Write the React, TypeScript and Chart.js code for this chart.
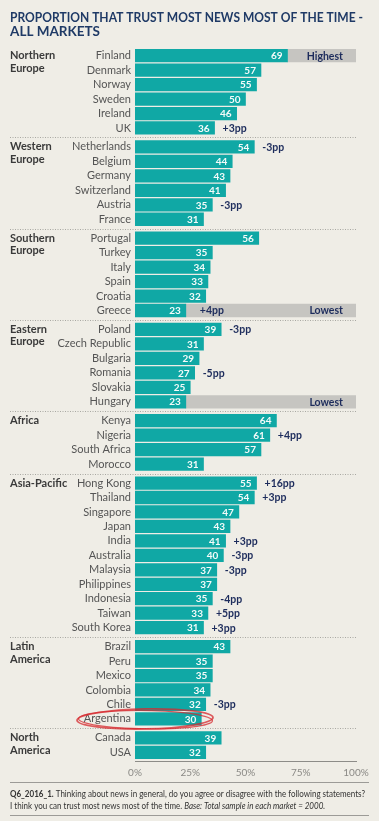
import React, { useEffect, useRef } from "react";
import { Chart, registerables } from "chart.js";

Chart.register(...registerables);

const titleLines = ["PROPORTION THAT TRUST MOST NEWS MOST OF THE TIME -", "ALL MARKETS"];

const groupNames = [
  ["Northern", "Europe"],
  ["Western", "Europe"],
  ["Southern", "Europe"],
  ["Eastern", "Europe"],
  ["Africa"],
  ["Asia-Pacific"],
  ["Latin", "America"],
  ["North", "America"],
];
const groupSizes = [6, 6, 6, 6, 4, 11, 6, 2];

const countries = [
  "Finland", "Denmark", "Norway", "Sweden", "Ireland", "UK",
  "Netherlands", "Belgium", "Germany", "Switzerland", "Austria", "France",
  "Portugal", "Turkey", "Italy", "Spain", "Croatia", "Greece",
  "Poland", "Czech Republic", "Bulgaria", "Romania", "Slovakia", "Hungary",
  "Kenya", "Nigeria", "South Africa", "Morocco",
  "Hong Kong", "Thailand", "Singapore", "Japan", "India", "Australia", "Malaysia", "Philippines", "Indonesia", "Taiwan", "South Korea",
  "Brazil", "Peru", "Mexico", "Colombia", "Chile", "Argentina",
  "Canada", "USA",
];
const values = [
  69, 57, 55, 50, 46, 36,
  54, 44, 43, 41, 35, 31,
  56, 35, 34, 33, 32, 23,
  39, 31, 29, 27, 25, 23,
  64, 61, 57, 31,
  55, 54, 47, 43, 41, 40, 37, 37, 35, 33, 31,
  43, 35, 35, 34, 32, 30,
  39, 32,
];
const changes = [
  "", "", "", "", "", "+3pp",
  "-3pp", "", "", "", "-3pp", "",
  "", "", "", "", "", "+4pp",
  "-3pp", "", "", "-5pp", "", "",
  "", "+4pp", "", "",
  "+16pp", "+3pp", "", "", "+3pp", "-3pp", "-3pp", "", "-4pp", "+5pp", "+3pp",
  "", "", "", "", "-3pp", "",
  "", "",
];
const highlights = [
  "Highest", "", "", "", "", "",
  "", "", "", "", "", "",
  "", "", "", "", "", "Lowest",
  "", "", "", "", "", "Lowest",
  "", "", "", "",
  "", "", "", "", "", "", "", "", "", "", "",
  "", "", "", "", "", "",
  "", "",
];
const circled = "Argentina";
const xTicks = [0, 25, 50, 75, 100];
const footnoteBold = "Q6_2016_1.";
const footnote1 = " Thinking about news in general, do you agree or disagree with the following statements?";
const footnote2 = "I think you can trust most news most of the time. ";
const footnoteItalic = "Base: Total sample in each market = 2000.";

const GAP = 0.31;
const TEAL = "#10a8a5";
const GREY = "#c6c5c1";
const NAVY = "#1d2c5c";
const FONT = "Lato";

// row positions along the linear index axis (row index + group gaps)
const groupOf: number[] = [];
groupSizes.forEach((n, g) => {
  for (let k = 0; k < n; k++) groupOf.push(g);
});
const positions = countries.map((_, i) => i + groupOf[i] * GAP);

export default function App() {
  const ref = useRef<HTMLCanvasElement | null>(null);

  useEffect(() => {
    if (!ref.current) return;

    const decor = {
      id: "decor",
      beforeDraw(chart: any) {
        const { ctx } = chart;
        ctx.save();
        ctx.fillStyle = "#1f3a66";
        ctx.textBaseline = "alphabetic";
        ctx.textAlign = "left";
        ctx.font = `bold 13.5px ${FONT}`;
        ctx.fillText(titleLines[0], 10, 22, 353);
        ctx.fillText(titleLines[1], 10, 36, 353);
        ctx.restore();
      },
      afterDatasetsDraw(chart: any) {
        const { ctx, scales } = chart;
        const x = scales.x;
        const y = scales.y;
        const meta = chart.getDatasetMeta(0);
        ctx.save();
        // group labels and separators
        let start = 0;
        groupSizes.forEach((n, g) => {
          const yc = y.getPixelForValue(positions[start]);
          ctx.fillStyle = "#3a3a3a";
          ctx.font = `bold 11px ${FONT}`;
          ctx.textAlign = "left";
          ctx.textBaseline = "middle";
          groupNames[g].forEach((t, k) => ctx.fillText(t, 10, yc + k * 12.5));
          if (g > 0) {
            const ys = (y.getPixelForValue(positions[start - 1]) + yc) / 2;
            ctx.strokeStyle = "#a9a8a3";
            ctx.lineWidth = 1;
            ctx.setLineDash([1, 1.5]);
            ctx.beginPath();
            ctx.moveTo(10, Math.round(ys) + 0.5);
            ctx.lineTo(x.getPixelForValue(100), Math.round(ys) + 0.5);
            ctx.stroke();
            ctx.setLineDash([]);
          }
          start += n;
        });
        // value / change / highlight labels
        meta.data.forEach((bar: any, i: number) => {
          ctx.textBaseline = "middle";
          ctx.font = `bold 10px ${FONT}`;
          ctx.fillStyle = "#f4fbfa";
          ctx.textAlign = "right";
          ctx.fillText(String(values[i]), bar.x - 5, bar.y + 0.5);
          if (changes[i]) {
            ctx.fillStyle = NAVY;
            ctx.font = `bold 10.5px ${FONT}`;
            ctx.textAlign = "left";
            ctx.fillText(changes[i], bar.x + (highlights[i] ? 14 : 8), bar.y + 0.5);
          }
          if (highlights[i]) {
            ctx.fillStyle = NAVY;
            ctx.font = `bold 10.5px ${FONT}`;
            ctx.textAlign = "right";
            ctx.fillText(highlights[i], x.getPixelForValue(100) - 13, bar.y + 0.5);
          }
        });
        // hand-drawn red circle
        const ci = countries.indexOf(circled);
        if (ci >= 0) {
          const yc = y.getPixelForValue(positions[ci]);
          ctx.strokeStyle = "rgba(214,40,45,0.75)";
          ctx.lineWidth = 1.8;
          ctx.beginPath();
          ctx.ellipse(145, yc, 68, 10, -0.02, 0, Math.PI * 2);
          ctx.stroke();
          ctx.lineWidth = 1.2;
          ctx.beginPath();
          ctx.ellipse(145.5, yc + 0.8, 67, 9.2, 0.015, 0.3, Math.PI * 2.1);
          ctx.stroke();
        }
        // footer
        ctx.strokeStyle = "#9c9b97";
        ctx.lineWidth = 1;
        ctx.beginPath();
        ctx.moveTo(10, 782.5);
        ctx.lineTo(369, 782.5);
        ctx.moveTo(10, 815.5);
        ctx.lineTo(369, 815.5);
        ctx.stroke();
        ctx.textAlign = "left";
        ctx.textBaseline = "alphabetic";
        ctx.fillStyle = "#333";
        ctx.font = `bold 9.5px ${FONT}`;
        const qw = ctx.measureText(footnoteBold).width;
        ctx.font = `9.5px ${FONT}`;
        const w1 = ctx.measureText(footnote1).width;
        const w2 = ctx.measureText(footnote2).width;
        const f = Math.min(1, 355 / (qw + w1));
        ctx.translate(10, 0);
        ctx.scale(f, 1);
        ctx.font = `bold 9.5px ${FONT}`;
        ctx.fillText(footnoteBold, 0, 797);
        ctx.font = `9.5px ${FONT}`;
        ctx.fillText(footnote1, qw, 797);
        ctx.fillText(footnote2, 0, 808.5);
        ctx.font = `italic 9.5px ${FONT}`;
        ctx.fillText(footnoteItalic, w2, 808.5);
        ctx.restore();
      },
    };

    const chart = new Chart(ref.current, {
      type: "bar",
      data: {
        datasets: [
          {
            data: values.map((v, i) => ({ x: v, y: positions[i] })),
            backgroundColor: TEAL,
            barThickness: 12.6,
            grouped: false,
          } as any,
          {
            data: values
              .map((v, i) => (highlights[i] ? { x: [v, 100], y: positions[i] } : null))
              .filter((d) => d !== null),
            backgroundColor: GREY,
            barThickness: 12.6,
            grouped: false,
          } as any,
        ],
      },
      options: {
        indexAxis: "y",
        animation: false,
        responsive: false,
        layout: { padding: { top: 47, right: 23, bottom: 40, left: 0 } },
        plugins: { legend: { display: false }, tooltip: { enabled: false }, title: { display: false } },
        scales: {
          x: {
            type: "linear",
            min: 0,
            max: 100,
            afterFit: (s: any) => {
              s.height = 20;
              s.paddingLeft = 0;
              s.paddingRight = 0;
            },
            afterBuildTicks: (s: any) => {
              s.ticks = xTicks.map((v) => ({ value: v }));
            },
            grid: { display: false, drawTicks: false },
            border: { display: true, color: "#8d8c88", width: 1 },
            ticks: {
              padding: 6,
              color: "#8a8985",
              font: { family: FONT, size: 10 },
              callback: (v: any) => `${v}%`,
            },
          },
          y: {
            type: "linear",
            reverse: true,
            offset: false,
            min: -0.6,
            max: positions[positions.length - 1] + 0.6,
            afterFit: (s: any) => {
              s.width = 135;
              s.paddingTop = 0;
              s.paddingBottom = 0;
            },
            afterBuildTicks: (s: any) => {
              s.ticks = positions.map((p) => ({ value: p }));
            },
            grid: { display: false, drawTicks: false },
            border: { display: false },
            ticks: {
              autoSkip: false,
              padding: 4,
              color: "#555",
              font: { family: FONT, size: 11 },
              callback: (v: any) => {
                const i = positions.findIndex((p) => Math.abs(p - v) < 1e-6);
                return i >= 0 ? countries[i] : "";
              },
            },
          },
        },
      },
      plugins: [decor],
    });
    return () => chart.destroy();
  }, []);

  return (
    <div style={{ position: "absolute", left: 0, top: 0, width: 379, height: 821, background: "#efede6" }}>
      <canvas ref={ref} width={379} height={821} />
    </div>
  );
}
